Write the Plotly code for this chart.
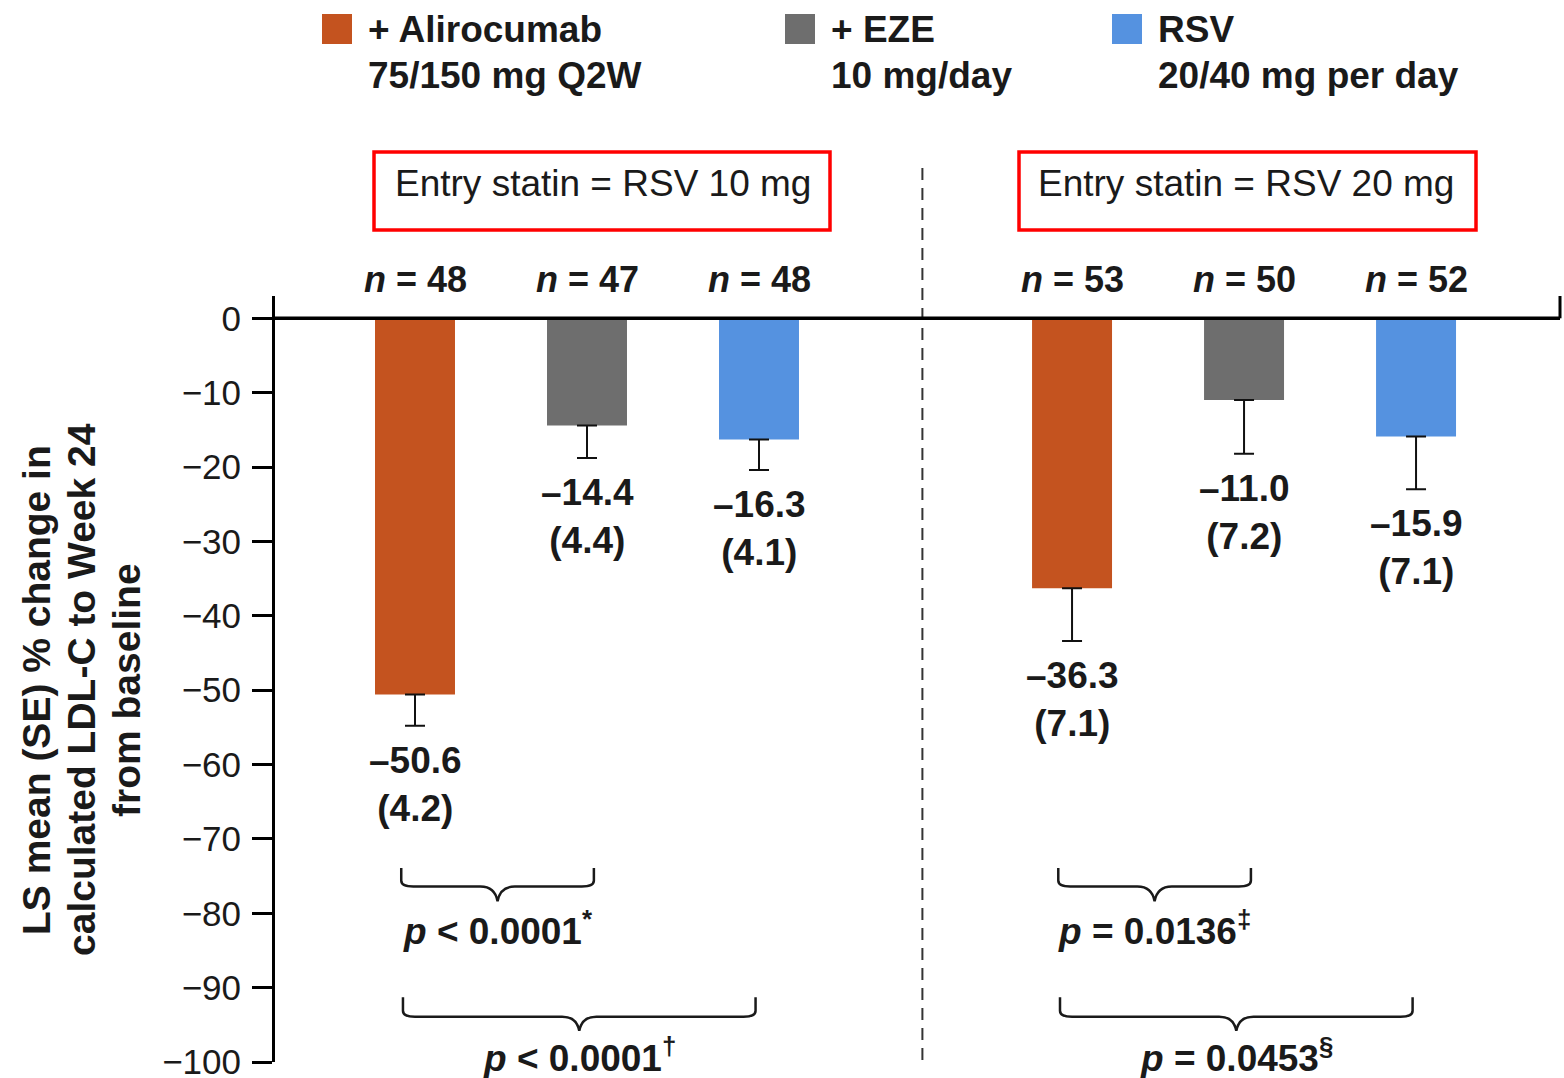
import plotly.graph_objects as go

# ---- data -------------------------------------------------------------
treatments = ["+ Alirocumab", "+ EZE", "RSV"]
doses = ["75/150 mg Q2W", "10 mg/day", "20/40 mg per day"]
entry_groups = ["Entry statin = RSV 10 mg", "Entry statin = RSV 20 mg"]

ls_mean_rsv10 = [-50.6, -14.4, -16.3]
se_rsv10 = [4.2, 4.4, 4.1]
n_rsv10 = [48, 47, 48]

ls_mean_rsv20 = [-36.3, -11.0, -15.9]
se_rsv20 = [7.1, 7.2, 7.1]
n_rsv20 = [53, 50, 52]

# pairwise comparisons within each entry group: Alirocumab vs EZE, vs RSV
p_rsv10 = ["<i>p</i> < 0.0001<sup>*</sup>", "<i>p</i> < 0.0001<sup>†</sup>"]
p_rsv20 = ["<i>p</i> = 0.0136<sup>‡</sup>", "<i>p</i> = 0.0453<sup>§</sup>"]
pairs = [(0, 1), (0, 2)]

y_ticks = list(range(0, -101, -10))

# ---- styling ----------------------------------------------------------
colors = ["#C4531F", "#6E6E6E", "#5592E0"]
FONT = "Liberation Sans, Arial, Helvetica, sans-serif"
INK = "#1a1a1a"

W, H = 1564, 1078
ML, MR, MT, MB = 275, 4, 296, 16
PW, PH = W - ML - MR, H - MT - MB


def fx(p):
    """figure pixel column -> paper x"""
    return (p - ML) / PW


def fy(p):
    """figure pixel row -> paper y"""
    return (H - MB - p) / PH


GROUP_SHIFT = 3.82
BAR_W = 0.465


def xpos(g, k):
    return 1 + k + GROUP_SHIFT * g


means = [ls_mean_rsv10, ls_mean_rsv20]
ses = [se_rsv10, se_rsv20]
ns = [n_rsv10, n_rsv20]
pvals = [p_rsv10, p_rsv20]

fig = go.Figure()

for k, name in enumerate(treatments):
    fig.add_trace(go.Bar(
        x=[xpos(g, k) for g in range(2)],
        y=[means[g][k] for g in range(2)],
        width=BAR_W,
        name=name,
        marker=dict(color=colors[k], line=dict(width=0)),
        error_y=dict(type="data", symmetric=False,
                     array=[0, 0],
                     arrayminus=[ses[g][k] for g in range(2)],
                     color="#111111", thickness=2, width=10),
        showlegend=False,
    ))

shapes = []
annotations = []

# header boxes (pixel extents) and brace layout
box_px = [(374, 830), (1019, 1476)]
box_text_px = [603, 1246]
brace_ends = [(-0.08, 0.04), (-0.07, -0.02)]
brace_levels = [(-73.9, -76.4, -78.4, -82.0), (-91.3, -93.9, -95.8, -99.1)]

for g in range(2):
    for k in range(3):
        m, s = means[g][k], ses[g][k]
        annotations.append(dict(
            x=xpos(g, k), y=m - s, xref="x", yref="y",
            text=f"<b>{m:.1f}<br>({s:.1f})</b>".replace("-", "–"),
            showarrow=False, yanchor="top", xanchor="center", yshift=-12,
            font=dict(family=FONT, size=37, color=INK)))
        annotations.append(dict(
            x=xpos(g, k), y=fy(280), xref="x", yref="paper",
            text=f"<b><i>n</i> = {ns[g][k]}</b>",
            showarrow=False, yanchor="middle", xanchor="center",
            font=dict(family=FONT, size=36, color=INK)))

    # entry statin boxes
    bx0, bx1 = box_px[g]
    shapes.append(dict(type="rect", xref="paper", yref="paper",
                       x0=fx(bx0), x1=fx(bx1), y0=fy(230), y1=fy(152),
                       line=dict(color="#FF0000", width=3.5)))
    annotations.append(dict(
        x=fx(box_text_px[g]), y=fy(184), xref="paper", yref="paper",
        text=entry_groups[g], showarrow=False,
        xanchor="center", yanchor="middle",
        font=dict(family=FONT, size=37, color=INK)))

    # comparison braces
    for (a, b), ptxt, (ea, eb), (ytip, yh, yp, ylab) in zip(
            pairs, pvals[g], brace_ends, brace_levels):
        x0 = xpos(g, a) + ea
        x1 = xpos(g, b) + eb
        xm = (x0 + x1) / 2
        r = 0.07
        r2 = 0.1
        path = (f"M {x0},{ytip} L {x0},{yh + 0.8} "
                f"Q {x0},{yh} {x0 + r},{yh} "
                f"L {xm - r2},{yh} Q {xm - r2 * 0.15},{yh} {xm},{yp} "
                f"Q {xm + r2 * 0.15},{yh} {xm + r2},{yh} "
                f"L {x1 - r},{yh} Q {x1},{yh} {x1},{yh + 0.8} "
                f"L {x1},{ytip}")
        shapes.append(dict(type="path", xref="x", yref="y", path=path,
                           line=dict(color=INK, width=2.5)))
        annotations.append(dict(
            x=xm, y=ylab, xref="x", yref="y", text=f"<b>{ptxt}</b>",
            showarrow=False, xanchor="center", yanchor="middle",
            font=dict(family=FONT, size=37, color=INK)))

# divider between entry-statin groups
x_div = (xpos(0, 2) + xpos(1, 0)) / 2 + 0.04
shapes.append(dict(type="line", xref="x", yref="paper",
                   x0=x_div, x1=x_div, y0=fy(168), y1=fy(1066),
                   line=dict(color="#333333", width=2, dash="12px,8px")))

# zero baseline and its right-end tick
shapes.append(dict(type="line", xref="paper", yref="y", x0=0, x1=1,
                   y0=0, y1=0, layer="above",
                   line=dict(color="black", width=3.5)))
shapes.append(dict(type="line", xref="paper", yref="y", x0=1, x1=1,
                   y0=0, y1=3, layer="above",
                   line=dict(color="black", width=3)))

# legend
legend_sq = [322, 785, 1112]
for k in range(3):
    x0 = legend_sq[k]
    shapes.append(dict(type="rect", xref="paper", yref="paper",
                       x0=fx(x0), x1=fx(x0 + 30), y0=fy(44), y1=fy(14),
                       fillcolor=colors[k], line=dict(width=0)))
    annotations.append(dict(
        x=fx(x0 + 44), y=fy(29), xref="paper", yref="paper",
        text=f"<b>{treatments[k]}</b>", showarrow=False,
        xanchor="left", yanchor="middle",
        font=dict(family=FONT, size=37, color=INK)))
    annotations.append(dict(
        x=fx(x0 + 44), y=fy(76), xref="paper", yref="paper",
        text=f"<b>{doses[k]}</b>", showarrow=False,
        xanchor="left", yanchor="middle",
        font=dict(family=FONT, size=37, color=INK)))

# y-axis title
title_lines = ["LS mean (SE) % change in", "calculated LDL-C to Week 24",
               "from baseline"]
for i, line in enumerate(title_lines):
    annotations.append(dict(
        x=fx(36 + 45 * i), y=fy(690), xref="paper", yref="paper",
        text=f"<b>{line}</b>", showarrow=False, textangle=-90,
        xanchor="center", yanchor="middle",
        font=dict(family=FONT, size=39, color=INK)))

fig.update_layout(
    width=W, height=H,
    margin=dict(l=ML, r=MR, t=MT, b=MB, pad=0, autoexpand=False),
    paper_bgcolor="white", plot_bgcolor="white",
    barmode="overlay",
    shapes=shapes, annotations=annotations,
    xaxis=dict(range=[1 - 140 / 172, 1 + 1145 / 172], visible=False,
               fixedrange=True, automargin=False),
    yaxis=dict(range=[-100, 3], tickvals=y_ticks,
               ticktext=[str(v).replace("-", "−") for v in y_ticks],
               ticks="outside", ticklen=20, tickwidth=3, tickcolor="black",
               showline=True, linewidth=3, linecolor="black",
               showgrid=False, zeroline=False, automargin=False,
               tickfont=dict(family=FONT, size=35, color=INK),
               ticklabelstandoff=4, ticklabeloverflow="allow"),
    font=dict(family=FONT, color=INK),
)

fig.write_html("out.html")
